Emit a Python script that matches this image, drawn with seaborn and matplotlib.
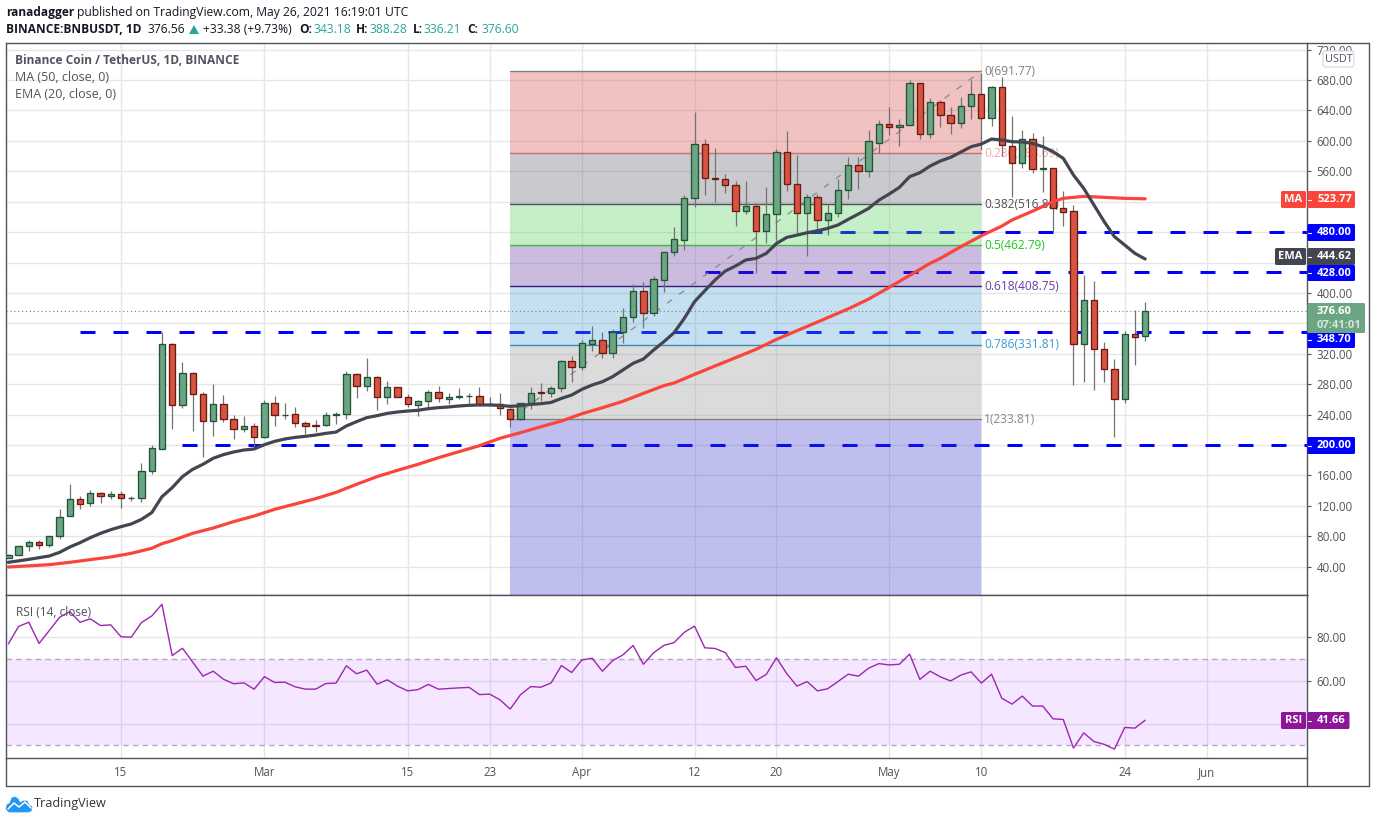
import pandas as pd
import matplotlib
matplotlib.use("Agg")
import matplotlib.pyplot as plt
from matplotlib.lines import Line2D
from matplotlib.patches import FancyBboxPatch, Polygon
from matplotlib.transforms import Affine2D
import seaborn as sns

# daily candles, 4 Feb to 26 May 2021
dates = pd.date_range("2021-02-04", "2021-05-26", freq="D")

open_ = [51.8, 54.9, 66.7, 72, 68, 79.9, 106, 128.5, 123.3, 136.4, 132.5, 135, 129.9, 129.9, 165.4, 194.3,
         332.4, 252.2, 294.3, 266.6, 231.1, 253.5, 233.8, 221.5, 224.5, 210.1, 254.8, 239.5, 240.3, 228.5, 225.8, 225.8,
         239, 240.3, 293, 277, 289, 262.7, 275.8, 262.7, 253, 257.4, 269.3, 261, 262.7, 264, 264, 253.5,
         254.4, 247.7, 233.7, 254.8, 269.2, 267.9, 274.5, 310, 302, 333.2, 337.6, 321.4, 348.1, 367.9, 402, 374,
         417.4, 453.3, 470, 524.4, 595.4, 550.7, 549.4, 541.5, 507.3, 513.8, 481, 503.3, 584.9, 542.8, 504.6, 525.7,
         495.4, 504.6, 534.9, 567.8, 560.8, 597.6, 621.7, 618.6, 620.4, 675.6, 608.5, 650.6, 633.5, 623, 645.4, 661.1,
         629.6, 670.4, 592.7, 570.4, 602, 562.5, 563.8, 511.2, 507.3, 333.2, 390.2, 325.8, 299.5, 260, 345.5, 343.18]
high = [56, 67.6, 75, 75, 80, 115.4, 148.7, 132.5, 140.4, 137.7, 139, 139, 132.5, 176.3, 199.6, 348.2,
        333.7, 308.7, 295.6, 269.3, 279.8, 265.3, 239, 237.7, 228.5, 258.7, 264, 254.8, 249.5, 231, 232.4, 243,
        243, 296.9, 294.3, 314, 290.3, 284.2, 275.8, 266.6, 258.7, 271.9, 277, 268, 274.5, 268, 275.8, 262.7,
        268, 248, 255, 276.2, 281.5, 277, 311.7, 316.6, 337.6, 356.5, 348.6, 352, 379.7, 411.3, 413.9, 421.8,
        453.3, 486.2, 528.3, 637.9, 602, 590, 555.9, 546.7, 546.7, 518.7, 539.3, 589.2, 612.9, 582, 529.6, 529.6,
        516.5, 549.4, 578.3, 578.3, 614.2, 627, 644, 628.3, 680, 675.6, 656.3, 653.3, 644, 657.2, 680, 688.8,
        672.1, 683.5, 632.6, 614.2, 609.9, 605.9, 563.8, 533.6, 515.2, 423, 415.6, 335, 313, 349.4, 377.5, 388.28]
low = [51, 54.9, 61, 63.7, 66.3, 76.8, 106, 116.3, 120.2, 124, 128.5, 117.6, 125.9, 125.5, 162.3, 194.3,
       221.5, 249.1, 218.8, 184.6, 212.3, 230.7, 208.3, 217.5, 194.3, 208.8, 225.4, 234.6, 224.1, 214.5, 217.5, 224.5,
       228, 234.6, 262.2, 271.4, 246.5, 254, 262.7, 249.5, 238.6, 246.5, 256, 254, 261, 254.8, 252, 251.3,
       239.5, 224, 233, 247.7, 258, 263.5, 270, 283, 298.6, 324, 314.8, 314.8, 334, 361.7, 353.8, 369.6,
       401.2, 449, 456.4, 513.4, 528.7, 520, 531.8, 488.4, 504, 426.6, 466, 468.7, 534.4, 479.2, 449, 480.5,
       476.6, 500, 523.9, 536.6, 552.4, 584.4, 607.2, 593.6, 620.4, 602.8, 604, 618.6, 609.4, 617.3, 629.1, 587.5,
       620, 580, 525.7, 564.7, 558.1, 533.1, 481, 488.4, 279.3, 283.2, 272.7, 283.2, 210.9, 255.6, 305.6, 336.21]
close = [54.9, 66.7, 72, 68, 79.9, 105.7, 128.5, 122.8, 136.4, 132.5, 135, 129.9, 130.5, 165.4, 195.6, 332.4,
         252.2, 294.3, 266.6, 231.1, 253.5, 233.8, 220.6, 224.5, 210.1, 254.8, 239, 239.9, 228.5, 224.5, 224.5, 239,
         240.3, 293, 277, 289, 262.7, 275.8, 262.7, 253.5, 257.4, 269.3, 261.4, 262.7, 264, 264, 254.4, 254.4,
         248.2, 233.7, 254.8, 267.9, 267.9, 274.5, 310, 302, 333.6, 337.6, 321.4, 348.1, 367.9, 402, 374, 417.8,
         453.3, 470.4, 524.4, 595.4, 550.7, 549.4, 541.5, 507.3, 513.8, 481, 503.3, 584.9, 542.8, 504.6, 525.7, 495.4,
         504.6, 534.9, 567.8, 560.8, 599.3, 621.7, 618.6, 620.4, 675.6, 608.5, 650.6, 633.5, 623, 645.4, 661.1, 629.6,
         670.4, 594, 570.4, 602, 562.5, 563.8, 511.2, 506.8, 333.2, 390.2, 325.8, 299.5, 260, 345.5, 342.4, 376.6]

ema20 = [45.7, 47.6, 49.6, 51.8, 54, 58.8, 65.8, 71.5, 78.1, 83.8, 88.6, 92.6, 96.1, 102.2, 111, 132,
         143.9, 158.4, 168, 174.6, 182.5, 187.3, 190.8, 193.4, 194.7, 200.4, 204.8, 207.9, 210, 211.4, 213.1, 215.3,
         217, 225, 230.7, 236, 238.6, 241.6, 243.4, 244.7, 245.6, 247.8, 249.1, 250, 251.3, 252.2, 252.6, 252.6,
         252.2, 250.8, 251.7, 253.4, 254.3, 256, 261.3, 265.7, 273.2, 278.9, 283.2, 289.8, 298.6, 307.4, 313, 324.9,
         335.8, 347.7, 366.5, 388.5, 402.9, 417, 428.8, 435.4, 443.3, 445.4, 452, 465, 473, 476, 479.2, 481.8,
         484.9, 489.3, 496.7, 503.8, 511.2, 522, 530, 538.8, 552.9, 558.1, 566.9, 573.5, 578.3, 585.3, 592.3, 595.8,
         602.4, 601, 598.9, 598.5, 596.7, 592.3, 585.7, 577, 555, 537.5, 515.6, 493.7, 474, 463, 452, 444.62]

# the 50 day line was read every couple of days
ma50_days = [0, 4, 6, 8, 10, 12, 14, 15, 16, 17, 18, 20, 22, 24, 26, 28, 30, 32, 34, 36, 38, 40, 42, 44, 46, 48,
             50, 52, 54, 56, 58, 60, 62, 64, 65, 67, 69, 71, 73, 75, 77, 78, 80, 82, 84, 86, 88, 90, 91, 93, 95, 97,
             98, 100, 102, 103, 104, 105, 107, 109, 111]
ma50 = [39.5, 42.6, 45.7, 49.2, 52.7, 57.5, 64.1, 70.2, 74.2, 79, 83.8, 90.8, 99.2, 106.6, 115.4, 122.4, 129.4, 137.7,
        148.3, 158.4, 166.7, 174.6, 183.3, 191.2, 199.1, 208.8,
        216.2, 224, 231.5, 241.1, 249, 257.4, 267.9, 278, 281.5, 292.9, 303.9, 314.8, 325.8, 338.9, 350.3, 356, 367.5,
        379, 391.9, 407.3, 423, 439, 445.4, 460.8, 475.2, 487.9,
        495.9, 507.5, 520, 524.4, 525.7, 527, 525.7, 524.4, 523.77]

rsi = [76.9, 85, 86.9, 77.1, 83.1, 89.2, 91.8, 86.9, 88.5, 85.4, 85.7, 80.2, 80, 86.8, 89.8, 95.2,
       71.5, 74.9, 68.5, 62, 64.3, 60.6, 58.5, 58.9, 56, 61.8, 59.1, 59.2, 57.1, 56, 56, 58.6,
       58.8, 66.8, 63.1, 64.8, 58.3, 60.3, 57.4, 55.2, 55.8, 58.2, 56, 56.3, 56.6, 56.8, 53.5, 53.7,
       51.1, 46.8, 53.4, 57.2, 56.9, 58.9, 66.9, 63.7, 69.5, 70.3, 64.3, 69.2, 71.8, 76.2, 67.5, 72.8,
       76.2, 77.5, 82.3, 85.1, 75.1, 74.8, 72.9, 66, 66.6, 60, 62.8, 70.5, 63.2, 57.4, 59.5, 55.2,
       56.2, 59.5, 62.9, 62, 65.7, 67.8, 67.2, 67.5, 72.2, 60.5, 64.3, 61.7, 59.8, 62.5, 64, 58.8,
       62.9, 51.8, 49.1, 52.8, 48.2, 48.2, 42.3, 42, 28.8, 35.8, 31.8, 30.5, 28.3, 38.3, 38, 41.66]

# horizontal levels drawn by the author
level_values = [348.7, 200, 428, 480]
level_starts = ["2021-02-11", "2021-02-21", "2021-04-13", "2021-04-23"]

# fibonacci retracement
fib_start = pd.Timestamp("2021-03-25")
fib_end = pd.Timestamp("2021-05-10")
fib_labels = ["0", "0.236", "0.382", "0.5", "0.618", "0.786", "1"]
fib_levels = [691.77, 583.69, 516.83, 462.79, 408.75, 331.81, 233.81]
fib_fills = ["#d03737", "#524e5c", "#41cd44", "#522098", "#3e96cd", "#8a8a8a", "#2d2dcd"]
fib_lines = ["#808080", "#d46a6a", "#50505a", "#3cba3c", "#3a1a80", "#3a8ab8", "#808080"]
fib_text = ["#808080", "#f0a8a8", "#50505a", "#22c322", "#6a3aa8", "#3a9ad0", "#888888"]

price_ticks = list(range(40, 721, 40))
price_hidden = [200, 360, 440, 480, 520]
rsi_ticks = [40, 60, 80]
rsi_tick_labels = ["", "60.00", "80.00"]
date_ticks = ["2021-02-15", "2021-03-01", "2021-03-15", "2021-03-23", "2021-04-01", "2021-04-12",
              "2021-04-20", "2021-05-01", "2021-05-10", "2021-05-24", "2021-06-01"]
date_labels = ["15", "Mar", "15", "23", "Apr", "12", "20", "May", "10", "24", "Jun"]

GREEN = "#6ba583"
GREEN_EDGE = "#225437"
RED = "#d75442"
RED_EDGE = "#6b1a10"
GRID = "#e6e6e6"
FRAME = "#50535e"
TXT = "#50535e"
BLUE = "#0000ff"
EMA_C = "#434651"
MA_C = "#f9453a"
RSI_C = "#9c27b0"
FONT = "Open Sans"

sns.set_theme(style="white")
plt.rcParams["font.family"] = [FONT, "DejaVu Sans"]

W, H = 1376, 823
fig = plt.figure(figsize=(W / 100, H / 100), dpi=100)
px = Affine2D().scale(1, -1).translate(0, H)  # reference pixels, y going down


def place(x0, y0, x1, y1):
    return fig.add_axes([x0 / W, 1 - y1 / H, (x1 - x0) / W, (y1 - y0) / H])


ax = place(6, 43, 1307, 595)
ax_rsi = place(6, 595, 1307, 758)

x_left = pd.Timestamp("2021-02-15") - pd.Timedelta(days=11.23)
x_right = pd.Timestamp("2021-02-15") + pd.Timedelta(days=115.8)

# fib zones sit above the drawn levels but under the candles
ax.set_ylim(2.7, 728.7)
ax.set_xlim(x_left, x_right)
zone_edges = fib_levels + [2.7]
for k in range(len(fib_levels)):
    ax.fill_between([fib_start, fib_end], zone_edges[k + 1], zone_edges[k],
                    color=fib_fills[k], alpha=0.3, linewidth=0, zorder=2)
    ax.plot([fib_start, fib_end], [fib_levels[k]] * 2, color=fib_lines[k], lw=1.0, zorder=2.1)
    ax.annotate(f"{fib_labels[k]}({fib_levels[k]:.2f})", (fib_end, fib_levels[k]), xytext=(2, 0),
                textcoords="offset points", va="center", ha="left", fontsize=8.6,
                color=fib_text[k], zorder=2.5)

ax.plot([fib_start, fib_end], [fib_levels[-1], fib_levels[0]], color="#8a8a8a", lw=0.9,
        dashes=(5, 7), zorder=2.2)

for value, start in zip(level_values, level_starts):
    ax.plot([pd.Timestamp(start), x_right], [value, value], color=BLUE, lw=2.16,
            dashes=(5, 6), dash_capstyle="butt", zorder=1.5)

ax.axhline(close[-1], color="#5d8a74", lw=0.8, dashes=(1, 2.5), zorder=1.6)

# candles
df = pd.DataFrame({"date": dates, "open": open_, "high": high, "low": low, "close": close})
df["top"] = df[["open", "close"]].max(axis=1)
df["bottom"] = df[["open", "close"]].min(axis=1)
up = df["close"] >= df["open"]
ax.vlines(df["date"], df["low"], df["high"], color="#737375", lw=0.9, zorder=3)
ax.bar(df["date"], df["top"] - df["bottom"], bottom=df["bottom"], width=0.62,
       color=[GREEN if u else RED for u in up],
       edgecolor=[GREEN_EDGE if u else RED_EDGE for u in up], linewidth=0.95, zorder=3.1)

# moving averages
sns.lineplot(x=dates[ma50_days], y=ma50, ax=ax, color=MA_C, linewidth=2.3, errorbar=None, zorder=4)
sns.lineplot(x=dates, y=ema20, ax=ax, color=EMA_C, linewidth=2.3, errorbar=None, zorder=4.1)

ax.set_xlabel("")
ax.set_ylabel("")
ax.set_axisbelow(True)
ax.grid(True, color=GRID, lw=1)
ax.yaxis.tick_right()
ax.set_yticks(price_ticks, labels=["" if t in price_hidden else f"{t:.2f}" for t in price_ticks])
ax.set_xticks(pd.to_datetime(date_ticks))
ax.tick_params(axis="x", length=0, labelbottom=False)
ax.tick_params(axis="y", length=3, width=0.8, color=FRAME, labelsize=8.3, labelcolor=TXT, pad=4)

# rsi pane
ax_rsi.set_xlim(x_left, x_right)
ax_rsi.set_ylim(24.2, 99.5)
ax_rsi.axhspan(30, 70, color="#9915ff", alpha=0.1, linewidth=0, zorder=1)
for v in [30, 70]:
    ax_rsi.axhline(v, color="#b9a6c9", lw=1, dashes=(4, 3), zorder=1.5)
sns.lineplot(x=dates, y=rsi, ax=ax_rsi, color=RSI_C, linewidth=1.0, errorbar=None, zorder=3)
ax_rsi.set_xlabel("")
ax_rsi.set_ylabel("")
ax_rsi.set_axisbelow(True)
ax_rsi.grid(True, color=GRID, lw=1)
ax_rsi.yaxis.tick_right()
ax_rsi.set_yticks(rsi_ticks, labels=rsi_tick_labels)
ax_rsi.set_xticks(pd.to_datetime(date_ticks), labels=date_labels)
ax_rsi.tick_params(axis="y", length=3, width=0.8, color=FRAME, labelsize=8.3, labelcolor=TXT, pad=4)
ax_rsi.tick_params(axis="x", length=3, width=0.8, color=FRAME, labelsize=8.3, labelcolor=TXT, pad=3)

for a in [ax, ax_rsi]:
    for s in a.spines.values():
        s.set_color(FRAME)
        s.set_linewidth(1.0)


def frame_line(x0, y0, x1, y1):
    fig.add_artist(Line2D([x0, x1], [y0, y1], transform=px, color=FRAME, lw=1.0))


frame_line(6, 758, 6, 786)
frame_line(6, 786, 1369, 786)
frame_line(1369, 43, 1369, 786)
frame_line(1307, 43, 1369, 43)
frame_line(1307, 758, 1307, 786)


def put(x, y, s, color=TXT, size=8.6, weight="normal", ha="left"):
    return fig.text(x, y, s, transform=px, color=color, fontsize=size, fontweight=weight,
                    ha=ha, va="center", zorder=6)


def tag(x0, y0, x1, y1, color, label=None, tick=True):
    fig.add_artist(FancyBboxPatch((x0, y0), x1 - x0, y1 - y0, boxstyle="round,pad=0,rounding_size=1.5",
                                  transform=px, facecolor=color, edgecolor="none", zorder=5))
    if label:
        put((x0 + x1) / 2, (y0 + y1) / 2, label, color="white", size=8, weight="bold", ha="center")
    if tick:
        fig.add_artist(Line2D([x0, x0 + 3.5], [(y0 + y1) / 2] * 2, transform=px, color="white", lw=0.8, zorder=6))


# price tags on the axis
def value_tag(y0, y1, color, text, x1=1355):
    tag(1307.5, y0, x1, y1, color)
    put(1317, (y0 + y1) / 2, text, color="white", size=8, weight="bold")


tag(1281, 191, 1306, 208, "#f9453a", "MA", tick=False)
value_tag(191, 208, "#f9453a", "523.77")
value_tag(224, 241, BLUE, "480.00")
tag(1275, 248, 1306, 265, EMA_C, "EMA", tick=False)
value_tag(248, 265, EMA_C, "444.62")
value_tag(265, 281, BLUE, "428.00")
value_tag(332, 348, BLUE, "348.70")
value_tag(437, 454, BLUE, "200.00")
tag(1307.5, 303, 1365, 333, GREEN, tick=False)
put(1317, 312, "376.60", color="white", size=8, weight="bold")
put(1317, 325, "07:41:01", color="#d5e6dc", size=8, weight="bold")
tag(1281, 712, 1306, 729, "#8e1599", "RSI", tick=False)
value_tag(712, 729, "#8e1599", "41.66", x1=1349.5)

fig.add_artist(FancyBboxPatch((1323, 51), 31, 16, boxstyle="round,pad=0,rounding_size=3", transform=px,
                              facecolor="white", edgecolor="#d4d6e0", lw=0.8, zorder=5))
put(1338.5, 59, "USDT", size=7.8, ha="center")

# pane captions
put(15, 60.5, "Binance Coin / TetherUS, 1D, BINANCE", size=8.6, weight="bold")
put(15, 77.5, "MA (50, close, 0)", size=9)
put(15, 94.5, "EMA (20, close, 0)", size=9)
put(15.5, 612, "RSI (14, close)", size=8.6)

# header
DARK = "#131722"
TEAL = "#26a69a"
put(6, 12.5, "ranadagger", color=DARK, weight="bold", size=8.6)
put(77, 12.5, "published on TradingView.com, May 26, 2021 16:19:01 UTC", color=DARK, size=8.77)
put(6, 29.5, "BINANCE:BNBUSDT, 1D", color=DARK, weight="bold", size=8.6)
put(147, 29.5, "376.56", color=DARK, size=8.77)
fig.add_artist(Polygon([(189, 34), (199, 34), (194, 25)], transform=px, facecolor=TEAL, edgecolor="none"))
put(203, 29.5, "+33.38 (+9.73%)", color=DARK, size=8.77)
for x_key, key, x_val, val in [(299, "O:", 313, "343.18"), (356, "H:", 370, "388.28"),
                               (413, "L:", 424, "336.21"), (467, "C:", 481, "376.60")]:
    put(x_key, 29.5, key, color=DARK, weight="bold", size=8.6)
    put(x_val, 29.5, val, color=TEAL, size=8.77)

# tradingview mark
fig.add_artist(Polygon([(6, 809), (7, 805), (10, 803), (12, 798), (15, 797), (18, 799), (20, 803), (23, 801),
                        (27, 801), (29, 805), (32, 807), (31, 811), (28, 812), (9, 812)],
                       transform=px, facecolor="#2196f3", edgecolor="#2196f3", lw=0.5, joinstyle="round"))
fig.add_artist(Line2D([8, 14, 19, 25, 31], [809, 803, 807, 802, 808], transform=px, color="white", lw=1.1))
put(34, 804, "TradingView", color="#333333", size=9.1)

fig.savefig("out.png", dpi=100)
